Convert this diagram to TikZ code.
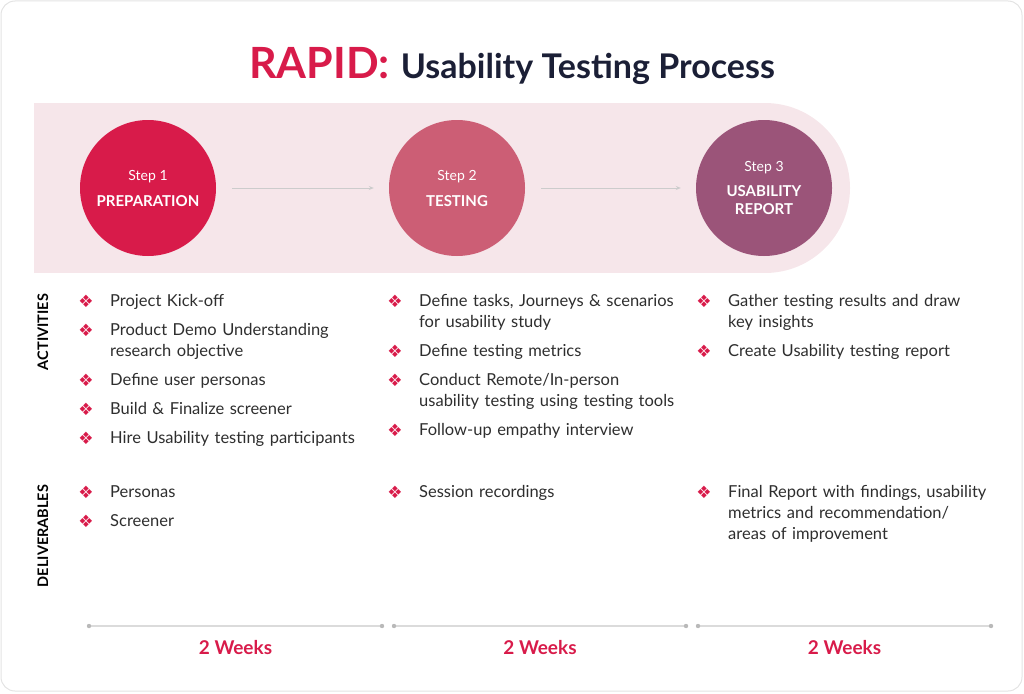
\documentclass[tikz,border=0pt]{standalone}
\usepackage{fontspec}
\setmainfont{Lato}
\newfontfamily\symfont{DejaVu Sans}
\usepackage{xcolor}
\usetikzlibrary{arrows.meta,calc,positioning}
\definecolor{brand}{HTML}{D81B4A}
\definecolor{rose}{HTML}{CC5E75}
\definecolor{plum}{HTML}{9B5479}
\definecolor{band}{HTML}{F6E6EA}
\definecolor{navy}{HTML}{1B1F36}
\definecolor{bodytext}{HTML}{2E2E2E}
\tikzset{
	frame/.style={draw=gray!22, line width=1pt, rounded corners=14pt}
}
\tikzstyle{stepcircle}=[circle, minimum size=136pt, inner sep=0pt, text=white, align=center, font=\fontsize{14}{18}\selectfont]
\tikzstyle{flow}=[draw=gray!40, line width=0.8pt, -{Stealth[length=5pt,width=4pt]}, shorten <=16pt, shorten >=15pt]
\tikzstyle{itemtext}=[anchor=base west, inner sep=0pt, text width=300pt, align=left, text=bodytext, font=\fontsize{16.5}{21}\selectfont]
\tikzstyle{bul}=[anchor=base, inner sep=0pt, text=brand, font=\symfont\fontsize{17}{17}\selectfont]
\tikzstyle{sidelabel}=[rotate=90, inner sep=0pt, text=black, font=\bfseries\fontsize{14.5}{14.5}\selectfont]
\tikzstyle{weeks}=[text=brand, inner sep=0pt, font=\bfseries\fontsize{19}{19}\selectfont]
\tikzstyle{span}=[draw=gray!28, line width=1.6pt]
\tikzstyle{tick}=[fill=gray!55]
\newcommand{\bitem}[4]{
	\node[bul] (#1b) at (#2-24,#3+1.5) {❖};
	\node[itemtext] (#1) at (#2,#3) {#4};
}

\begin{document}
\begin{tikzpicture}[x=1pt, y=-1pt]
	\useasboundingbox (0,0) rectangle (1024,693);
	\draw[frame] (1,1) rectangle (1022,691);
	\node[anchor=base] (title) at (512,78) {\bfseries\textcolor{brand}{\fontsize{43}{43}\selectfont RAPID:}\hspace{11pt}\textcolor{navy}{\fontsize{34}{34}\selectfont Usability Testing Process}};
	% band behind the steps
	\fill[band] (34,103) rectangle (765,273);
	\fill[band] (765,188) circle (85);
	\node[stepcircle, fill=brand] (prep) at (148,188) {Step 1\\[8pt]{\fontsize{15}{18}\selectfont\textbf{PREPARATION}}};
	\node[stepcircle, fill=rose] (test) at (457,188) {Step 2\\[8pt]{\fontsize{15}{18}\selectfont\textbf{TESTING}}};
	\node[stepcircle, fill=plum] (report) at (764,188) {Step 3\\[7pt]{\fontsize{15}{18}\selectfont\textbf{USABILITY}}\\{\fontsize{15}{18}\selectfont\textbf{REPORT}}};
	\draw[flow] (prep) -- (test);
	\draw[flow] (test) -- (report);
	\node[sidelabel] (act) at (43,332) {ACTIVITIES};
	\node[sidelabel] (del) at (43,536) {DELIVERABLES};
	% activities
	\bitem{aa}{110}{306}{Project Kick-off}
	\bitem{ab}{110}{335}{Product Demo Understanding\\research objective}
	\bitem{ac}{110}{385}{Define user personas}
	\bitem{ad}{110}{414}{Build \& Finalize screener}
	\bitem{ae}{110}{443}{Hire Usability testing participants}
	\bitem{ba}{419}{306}{Define tasks, Journeys \& scenarios\\for usability study}
	\bitem{bb}{419}{356}{Define testing metrics}
	\bitem{bc}{419}{385}{Conduct Remote/In-person\\usability testing using testing tools}
	\bitem{bd}{419}{435}{Follow-up empathy interview}
	\bitem{ca}{728}{306}{Gather testing results and draw\\key insights}
	\bitem{cb}{728}{356}{Create Usability testing report}
	% deliverables
	\bitem{da}{110}{497}{Personas}
	\bitem{db}{110}{526}{Screener}
	\bitem{ea}{419}{497}{Session recordings}
	\bitem{fa}{728}{497}{Final Report with findings, usability\\metrics and recommendation/\\areas of improvement}
	% timeline
	\foreach \a/\b/\n in {89/382/1, 394/686/2, 698/991/3}{
		\coordinate (s\n l) at (\a,626);
		\coordinate (s\n r) at (\b,626);
		\draw[span] (s\n l) -- (s\n r);
		\fill[tick] (s\n l) circle (2.2);
		\fill[tick] (s\n r) circle (2.2);
		\node[weeks] (w\n) at ($(s\n l)!0.5!(s\n r)+(0,22)$) {2 Weeks};
	}
\end{tikzpicture}
\end{document}
